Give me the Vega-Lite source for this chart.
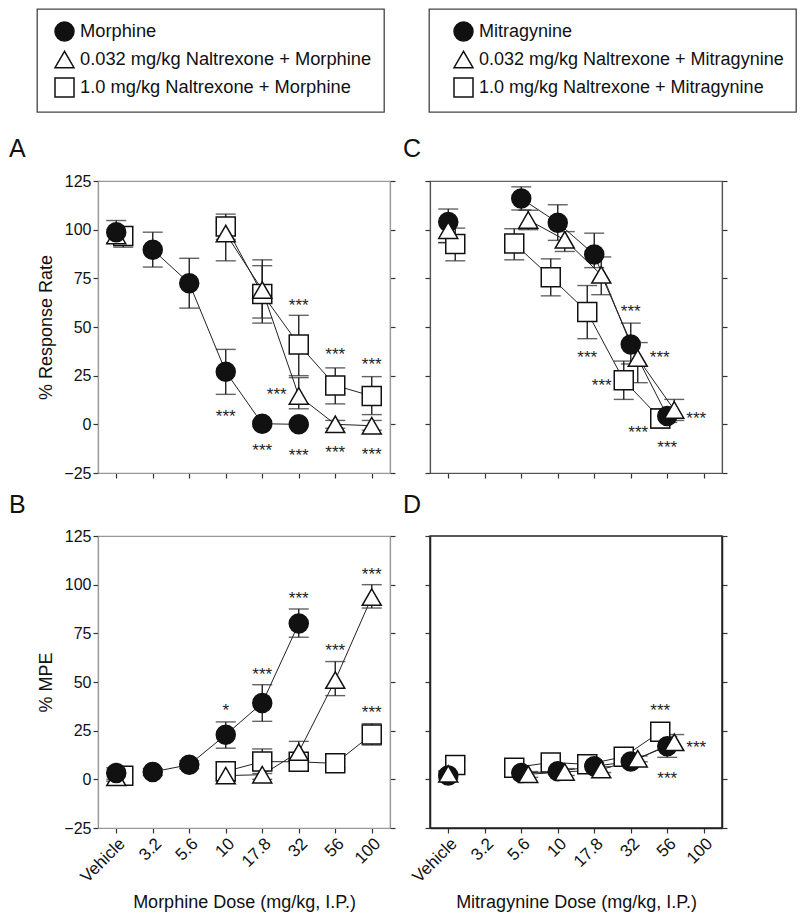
{
  "$schema": "https://vega.github.io/schema/vega-lite/v6.json",
  "background": "white",
  "padding": {"left": 8, "top": 7, "right": 5, "bottom": 5},
  "columns": 2,
  "spacing": {"row": 63, "column": 40},
  "bounds": "flush",
  "resolve": {"scale": {"shape": "independent", "fill": "independent", "stroke": "independent"}, "legend": {"shape": "independent", "fill": "independent", "stroke": "independent"}},
  "datasets": {
    "A": [
      {"d": "Vehicle", "n": 0, "s": "q", "series": "1.0 mg/kg Naltrexone + Morphine", "v": 96.8, "lo": 91, "hi": 101.5},
      {"d": "10", "n": 10, "s": "q", "series": "1.0 mg/kg Naltrexone + Morphine", "v": 101.6, "lo": 95, "hi": 108},
      {"d": "17.8", "n": 17.8, "s": "q", "series": "1.0 mg/kg Naltrexone + Morphine", "v": 67, "lo": 54.6, "hi": 81.5},
      {"d": "32", "n": 32, "s": "q", "series": "1.0 mg/kg Naltrexone + Morphine", "v": 41, "lo": 25, "hi": 56},
      {"d": "56", "n": 56, "s": "q", "series": "1.0 mg/kg Naltrexone + Morphine", "v": 20, "lo": 10.5, "hi": 29},
      {"d": "100", "n": 100, "s": "q", "series": "1.0 mg/kg Naltrexone + Morphine", "v": 14.5, "lo": 5, "hi": 24.5},
      {"d": "Vehicle", "n": 0, "s": "t", "series": "0.032 mg/kg Naltrexone + Morphine", "v": 97, "lo": 93, "hi": 100},
      {"d": "10", "n": 10, "s": "t", "series": "0.032 mg/kg Naltrexone + Morphine", "v": 98, "lo": 84, "hi": 104},
      {"d": "17.8", "n": 17.8, "s": "t", "series": "0.032 mg/kg Naltrexone + Morphine", "v": 69, "lo": 52, "hi": 84.5},
      {"d": "32", "n": 32, "s": "t", "series": "0.032 mg/kg Naltrexone + Morphine", "v": 14.6, "lo": 8, "hi": 24},
      {"d": "56", "n": 56, "s": "t", "series": "0.032 mg/kg Naltrexone + Morphine", "v": 0, "lo": -2, "hi": 2},
      {"d": "100", "n": 100, "s": "t", "series": "0.032 mg/kg Naltrexone + Morphine", "v": -0.7, "lo": -3, "hi": 2},
      {"d": "Vehicle", "n": 0, "s": "c", "series": "Morphine", "v": 98.7, "lo": 93, "hi": 104.7},
      {"d": "3.2", "n": 3.2, "s": "c", "series": "Morphine", "v": 89.7, "lo": 80.8, "hi": 98.7},
      {"d": "5.6", "n": 5.6, "s": "c", "series": "Morphine", "v": 72.5, "lo": 59.7, "hi": 85.3},
      {"d": "10", "n": 10, "s": "c", "series": "Morphine", "v": 27, "lo": 15.4, "hi": 38.5},
      {"d": "17.8", "n": 17.8, "s": "c", "series": "Morphine", "v": 0.3, "lo": -1, "hi": 1.5},
      {"d": "32", "n": 32, "s": "c", "series": "Morphine", "v": 0, "lo": -1, "hi": 1}
    ],
    "B": [
      {"d": "Vehicle", "n": 0, "s": "q", "series": "1.0 mg/kg Naltrexone + Morphine", "v": 1.9, "lo": -2, "hi": 5},
      {"d": "10", "n": 10, "s": "q", "series": "1.0 mg/kg Naltrexone + Morphine", "v": 4.1, "lo": 0, "hi": 9},
      {"d": "17.8", "n": 17.8, "s": "q", "series": "1.0 mg/kg Naltrexone + Morphine", "v": 9.1, "lo": 3, "hi": 15.6},
      {"d": "32", "n": 32, "s": "q", "series": "1.0 mg/kg Naltrexone + Morphine", "v": 9, "lo": 5, "hi": 13},
      {"d": "56", "n": 56, "s": "q", "series": "1.0 mg/kg Naltrexone + Morphine", "v": 8.2, "lo": 6, "hi": 10.5},
      {"d": "100", "n": 100, "s": "q", "series": "1.0 mg/kg Naltrexone + Morphine", "v": 23, "lo": 17.6, "hi": 28.6},
      {"d": "Vehicle", "n": 0, "s": "t", "series": "0.032 mg/kg Naltrexone + Morphine", "v": 1, "lo": -1, "hi": 3},
      {"d": "10", "n": 10, "s": "t", "series": "0.032 mg/kg Naltrexone + Morphine", "v": 1.9, "lo": -1, "hi": 4},
      {"d": "17.8", "n": 17.8, "s": "t", "series": "0.032 mg/kg Naltrexone + Morphine", "v": 2.4, "lo": 0, "hi": 5},
      {"d": "32", "n": 32, "s": "t", "series": "0.032 mg/kg Naltrexone + Morphine", "v": 14, "lo": 8, "hi": 19.5},
      {"d": "56", "n": 56, "s": "t", "series": "0.032 mg/kg Naltrexone + Morphine", "v": 51, "lo": 43, "hi": 60.5},
      {"d": "100", "n": 100, "s": "t", "series": "0.032 mg/kg Naltrexone + Morphine", "v": 93.6, "lo": 88, "hi": 100},
      {"d": "Vehicle", "n": 0, "s": "c", "series": "Morphine", "v": 3.3, "lo": 0, "hi": 6},
      {"d": "3.2", "n": 3.2, "s": "c", "series": "Morphine", "v": 3.8, "lo": 2, "hi": 5.5},
      {"d": "5.6", "n": 5.6, "s": "c", "series": "Morphine", "v": 7.5, "lo": 5.5, "hi": 9.5},
      {"d": "10", "n": 10, "s": "c", "series": "Morphine", "v": 22.9, "lo": 16, "hi": 29.5},
      {"d": "17.8", "n": 17.8, "s": "c", "series": "Morphine", "v": 39.2, "lo": 29.8, "hi": 48.6},
      {"d": "32", "n": 32, "s": "c", "series": "Morphine", "v": 80, "lo": 73, "hi": 87.5}
    ],
    "C": [
      {"d": "Vehicle", "n": 0, "s": "q", "series": "1.0 mg/kg Naltrexone + Mitragynine", "v": 92.6, "lo": 84, "hi": 100.8},
      {"d": "5.6", "n": 5.6, "s": "q", "series": "1.0 mg/kg Naltrexone + Mitragynine", "v": 92.9, "lo": 84.5, "hi": 100.5},
      {"d": "10", "n": 10, "s": "q", "series": "1.0 mg/kg Naltrexone + Mitragynine", "v": 75.6, "lo": 66, "hi": 85},
      {"d": "17.8", "n": 17.8, "s": "q", "series": "1.0 mg/kg Naltrexone + Mitragynine", "v": 57.7, "lo": 44, "hi": 71.3},
      {"d": "32", "n": 32, "s": "q", "series": "1.0 mg/kg Naltrexone + Mitragynine", "v": 22.6, "lo": 12.8, "hi": 32.5},
      {"d": "56", "n": 56, "s": "q", "series": "1.0 mg/kg Naltrexone + Mitragynine", "v": 3, "lo": -2, "hi": 8},
      {"d": "Vehicle", "n": 0, "s": "c", "series": "Mitragynine", "v": 104, "lo": 93.3, "hi": 110.6},
      {"d": "5.6", "n": 5.6, "s": "c", "series": "Mitragynine", "v": 116, "lo": 110.1, "hi": 122},
      {"d": "10", "n": 10, "s": "c", "series": "Mitragynine", "v": 103.6, "lo": 94.5, "hi": 112.8},
      {"d": "17.8", "n": 17.8, "s": "c", "series": "Mitragynine", "v": 87.2, "lo": 80.5, "hi": 98.2},
      {"d": "32", "n": 32, "s": "c", "series": "Mitragynine", "v": 41, "lo": 31, "hi": 52},
      {"d": "56", "n": 56, "s": "c", "series": "Mitragynine", "v": 4.3, "lo": 1, "hi": 7},
      {"d": "Vehicle", "n": 0, "s": "t", "series": "0.032 mg/kg Naltrexone + Mitragynine", "v": 99.7, "lo": 93.4, "hi": 104},
      {"d": "5.6", "n": 5.6, "s": "t", "series": "0.032 mg/kg Naltrexone + Mitragynine", "v": 105, "lo": 100, "hi": 110},
      {"d": "10", "n": 10, "s": "t", "series": "0.032 mg/kg Naltrexone + Mitragynine", "v": 94.8, "lo": 88.8, "hi": 99},
      {"d": "17.8", "n": 17.8, "s": "t", "series": "0.032 mg/kg Naltrexone + Mitragynine", "v": 76.8, "lo": 66.6, "hi": 86},
      {"d": "32", "n": 32, "s": "t", "series": "0.032 mg/kg Naltrexone + Mitragynine", "v": 34, "lo": 21.4, "hi": 42},
      {"d": "56", "n": 56, "s": "t", "series": "0.032 mg/kg Naltrexone + Mitragynine", "v": 7.4, "lo": 2, "hi": 12.8}
    ],
    "D": [
      {"d": "Vehicle", "n": 0, "s": "q", "series": "1.0 mg/kg Naltrexone + Mitragynine", "v": 7.4, "lo": 5, "hi": 9.5},
      {"d": "5.6", "n": 5.6, "s": "q", "series": "1.0 mg/kg Naltrexone + Mitragynine", "v": 6, "lo": 4, "hi": 8},
      {"d": "10", "n": 10, "s": "q", "series": "1.0 mg/kg Naltrexone + Mitragynine", "v": 8.7, "lo": 6.5, "hi": 11},
      {"d": "17.8", "n": 17.8, "s": "q", "series": "1.0 mg/kg Naltrexone + Mitragynine", "v": 7.7, "lo": 5.5, "hi": 10},
      {"d": "32", "n": 32, "s": "q", "series": "1.0 mg/kg Naltrexone + Mitragynine", "v": 11.6, "lo": 9, "hi": 14},
      {"d": "56", "n": 56, "s": "q", "series": "1.0 mg/kg Naltrexone + Mitragynine", "v": 24.4, "lo": 20, "hi": 28},
      {"d": "Vehicle", "n": 0, "s": "c", "series": "Mitragynine", "v": 2, "lo": 0, "hi": 4},
      {"d": "5.6", "n": 5.6, "s": "c", "series": "Mitragynine", "v": 3.2, "lo": 1.5, "hi": 5},
      {"d": "10", "n": 10, "s": "c", "series": "Mitragynine", "v": 4.1, "lo": 2.5, "hi": 6},
      {"d": "17.8", "n": 17.8, "s": "c", "series": "Mitragynine", "v": 6.7, "lo": 5, "hi": 8.5},
      {"d": "32", "n": 32, "s": "c", "series": "Mitragynine", "v": 9.2, "lo": 7.5, "hi": 11},
      {"d": "56", "n": 56, "s": "c", "series": "Mitragynine", "v": 17, "lo": 11.3, "hi": 22},
      {"d": "Vehicle", "n": 0, "s": "t", "series": "0.032 mg/kg Naltrexone + Mitragynine", "v": 2.8, "lo": 1, "hi": 4.5},
      {"d": "5.6", "n": 5.6, "s": "t", "series": "0.032 mg/kg Naltrexone + Mitragynine", "v": 2.6, "lo": 1, "hi": 4},
      {"d": "10", "n": 10, "s": "t", "series": "0.032 mg/kg Naltrexone + Mitragynine", "v": 3.8, "lo": 2, "hi": 5.5},
      {"d": "17.8", "n": 17.8, "s": "t", "series": "0.032 mg/kg Naltrexone + Mitragynine", "v": 5, "lo": 3.5, "hi": 6.5},
      {"d": "32", "n": 32, "s": "t", "series": "0.032 mg/kg Naltrexone + Mitragynine", "v": 10.6, "lo": 9, "hi": 12},
      {"d": "56", "n": 56, "s": "t", "series": "0.032 mg/kg Naltrexone + Mitragynine", "v": 19, "lo": 15, "hi": 23}
    ],
    "As": [
      {"d": "10", "s": "c", "v": 5.8, "t": "***"},
      {"d": "17.8", "s": "c", "v": -11.6, "t": "***"},
      {"d": "32", "s": "c", "v": -14.2, "t": "***"},
      {"d": "56", "s": "t", "v": -12.8, "t": "***"},
      {"d": "100", "s": "t", "v": -13.5, "t": "***"},
      {"d": "32", "s": "t", "place": "l", "v": 17, "t": "***"},
      {"d": "32", "s": "q", "v": 62.8, "t": "***"},
      {"d": "56", "s": "q", "v": 37.5, "t": "***"},
      {"d": "100", "s": "q", "v": 32.3, "t": "***"}
    ],
    "Bs": [
      {"d": "10", "s": "c", "v": 37.1, "t": "*"},
      {"d": "17.8", "s": "c", "v": 55.4, "t": "***"},
      {"d": "32", "s": "c", "v": 94.5, "t": "***"},
      {"d": "56", "s": "t", "v": 67.8, "t": "***"},
      {"d": "100", "s": "t", "v": 107, "t": "***"},
      {"d": "100", "s": "q", "v": 36, "t": "***"}
    ],
    "Cs": [
      {"d": "32", "s": "c", "v": 59.7, "t": "***"},
      {"d": "17.8", "s": "q", "v": 36, "t": "***"},
      {"d": "32", "s": "t", "place": "r", "v": 36, "t": "***"},
      {"d": "32", "s": "q", "place": "l", "v": 22, "t": "***"},
      {"d": "56", "s": "t", "place": "r", "v": 5, "t": "***"},
      {"d": "56", "s": "q", "place": "l", "v": -2.6, "t": "***"},
      {"d": "56", "s": "c", "v": -10, "t": "***"}
    ],
    "Ds": [
      {"d": "56", "s": "q", "v": 37, "t": "***"},
      {"d": "56", "s": "t", "place": "r", "v": 18.3, "t": "***"},
      {"d": "56", "s": "c", "v": 2, "t": "***"}
    ]
  },
  "concat": [
    {
      "width": 292, "height": 292,
      "title": {"text": "A", "dx": -89, "offset": -153.75},
      "view": {"stroke": "#999"},
      "resolve": {"axis": {"y": "independent"}},
      "layer": [
        {"data": {"name": "A"}, "transform": [{"filter": "datum.d !== 'Vehicle'"}],
         "mark": {"type": "line", "color": "#222", "strokeWidth": 1, "xOffset": {"expr": "(datum.s === 'q' && datum.d === 'Vehicle' ? 7 : 0)"}},
         "encoding": {
           "x": {"field": "d", "type": "ordinal", "scale": {"type": "point", "domain": ["Vehicle", "3.2", "5.6", "10", "17.8", "32", "56", "100"], "padding": 0.5}, "axis": {"labels": false, "title": null, "domainColor": "#999"}},
           "y": {"field": "v", "type": "quantitative", "scale": {"domain": [-25, 125], "nice": false, "zero": false}, "axis": {"orient": "left", "title": "% Response Rate", "values": [-25, 0, 25, 50, 75, 100, 125], "titleFontSize": 18, "titlePadding": 8, "domainColor": "#999"}},
           "detail": {"field": "s"}, "order": {"field": "n", "type": "quantitative"}}},
        {"data": {"name": "A"},
         "mark": {"type": "rule", "color": "#222", "strokeWidth": 1.4, "xOffset": {"expr": "(datum.s === 'q' && datum.d === 'Vehicle' ? 7 : 0)"}},
         "encoding": {
           "x": {"field": "d", "type": "ordinal", "scale": {"type": "point", "domain": ["Vehicle", "3.2", "5.6", "10", "17.8", "32", "56", "100"], "padding": 0.5}, "axis": {"labels": false, "title": null, "domainColor": "#999"}},
           "y": {"field": "lo", "type": "quantitative", "scale": {"domain": [-25, 125], "nice": false, "zero": false}, "axis": null}, "y2": {"field": "hi"}}},
        {"data": {"name": "A"},
         "mark": {"type": "tick", "color": "#222", "thickness": 1.4, "size": 20, "xOffset": {"expr": "(datum.s === 'q' && datum.d === 'Vehicle' ? 7 : 0)"}},
         "encoding": {
           "x": {"field": "d", "type": "ordinal", "scale": {"type": "point", "domain": ["Vehicle", "3.2", "5.6", "10", "17.8", "32", "56", "100"], "padding": 0.5}, "axis": {"labels": false, "title": null, "domainColor": "#999"}},
           "y": {"field": "hi", "type": "quantitative", "scale": {"domain": [-25, 125], "nice": false, "zero": false}, "axis": {"orient": "right", "labels": false, "title": null, "values": [-25, 0, 25, 50, 75, 100, 125], "domainColor": "#999"}}}},
        {"data": {"name": "A"},
         "mark": {"type": "tick", "color": "#222", "thickness": 1.4, "size": 20, "xOffset": {"expr": "(datum.s === 'q' && datum.d === 'Vehicle' ? 7 : 0)"}},
         "encoding": {
           "x": {"field": "d", "type": "ordinal", "scale": {"type": "point", "domain": ["Vehicle", "3.2", "5.6", "10", "17.8", "32", "56", "100"], "padding": 0.5}, "axis": {"labels": false, "title": null, "domainColor": "#999"}},
           "y": {"field": "lo", "type": "quantitative", "scale": {"domain": [-25, 125], "nice": false, "zero": false}, "axis": null}}},
        {"data": {"name": "A"},
         "mark": {"type": "point", "size": 361, "strokeWidth": 1.5, "opacity": 1, "xOffset": {"expr": "(datum.s === 'q' && datum.d === 'Vehicle' ? 7 : 0)"}},
         "encoding": {
           "x": {"field": "d", "type": "ordinal", "scale": {"type": "point", "domain": ["Vehicle", "3.2", "5.6", "10", "17.8", "32", "56", "100"], "padding": 0.5}, "axis": {"labels": false, "title": null, "domainColor": "#999"}},
           "y": {"field": "v", "type": "quantitative", "scale": {"domain": [-25, 125], "nice": false, "zero": false}, "axis": null},
           "shape": {"field": "series", "type": "nominal", "scale": {"domain": ["Morphine", "0.032 mg/kg Naltrexone + Morphine", "1.0 mg/kg Naltrexone + Morphine"], "range": ["circle", "triangle-up", "square"]},
             "legend": {"orient": "none", "legendX": -61, "legendY": -172, "title": null, "labelFontSize": 18.3, "labelLimit": 500, "labelColor": "#111", "symbolSize": 361, "symbolStrokeWidth": 1.5, "rowPadding": 4, "padding": 12, "strokeColor": "#444", "symbolOffset": 5, "labelOffset": 5}},
           "fill": {"field": "series", "type": "nominal", "scale": {"domain": ["Morphine", "0.032 mg/kg Naltrexone + Morphine", "1.0 mg/kg Naltrexone + Morphine"], "range": ["#111111", "#ffffff", "#ffffff"]},
             "legend": {"orient": "none", "legendX": -61, "legendY": -172, "title": null, "labelFontSize": 18.3, "labelLimit": 500, "labelColor": "#111", "symbolSize": 361, "symbolStrokeWidth": 1.5, "rowPadding": 4, "padding": 12, "strokeColor": "#444", "symbolOffset": 5, "labelOffset": 5}},
           "stroke": {"field": "series", "type": "nominal", "scale": {"domain": ["Morphine", "0.032 mg/kg Naltrexone + Morphine", "1.0 mg/kg Naltrexone + Morphine"], "range": ["#111111", "#111111", "#111111"]},
             "legend": {"orient": "none", "legendX": -61, "legendY": -172, "title": null, "labelFontSize": 18.3, "labelLimit": 500, "labelColor": "#111", "symbolSize": 361, "symbolStrokeWidth": 1.5, "rowPadding": 4, "padding": 12, "strokeColor": "#444", "symbolOffset": 5, "labelOffset": 5}}}},
        {"data": {"name": "As"},
         "mark": {"type": "text", "fontSize": 17, "color": "#222", "baseline": "middle", "dy": 4, "xOffset": {"expr": "(datum.place === 'l' ? -22 : datum.place === 'r' ? 22 : 0)"}},
         "encoding": {
           "x": {"field": "d", "type": "ordinal", "scale": {"type": "point", "domain": ["Vehicle", "3.2", "5.6", "10", "17.8", "32", "56", "100"], "padding": 0.5}, "axis": {"labels": false, "title": null, "domainColor": "#999"}},
           "y": {"field": "v", "type": "quantitative", "scale": {"domain": [-25, 125], "nice": false, "zero": false}, "axis": null},
           "text": {"field": "t"}}}
      ]
    },
    {
      "width": 292, "height": 292,
      "title": {"text": "C", "dx": -27, "offset": -153.75},
      "view": {"stroke": "#666"},
      "resolve": {"axis": {"y": "independent"}},
      "layer": [
        {"data": {"name": "C"}, "transform": [{"filter": "datum.d !== 'Vehicle'"}],
         "mark": {"type": "line", "color": "#222", "strokeWidth": 1, "xOffset": {"expr": "datum.s === 'q' ? (datum.d === 'Vehicle' ? 7 : -7) : (datum.s === 't' && datum.d !== 'Vehicle' ? 7 : 0)"}},
         "encoding": {
           "x": {"field": "d", "type": "ordinal", "scale": {"type": "point", "domain": ["Vehicle", "3.2", "5.6", "10", "17.8", "32", "56", "100"], "padding": 0.5}, "axis": {"labels": false, "title": null, "domainColor": "#555"}},
           "y": {"field": "v", "type": "quantitative", "scale": {"domain": [-25, 125], "nice": false, "zero": false}, "axis": {"orient": "left", "labels": false, "title": null, "values": [-25, 0, 25, 50, 75, 100, 125], "domainColor": "#555"}},
           "detail": {"field": "s"}, "order": {"field": "n", "type": "quantitative"}}},
        {"data": {"name": "C"},
         "mark": {"type": "rule", "color": "#222", "strokeWidth": 1.4, "xOffset": {"expr": "datum.s === 'q' ? (datum.d === 'Vehicle' ? 7 : -7) : (datum.s === 't' && datum.d !== 'Vehicle' ? 7 : 0)"}},
         "encoding": {
           "x": {"field": "d", "type": "ordinal", "scale": {"type": "point", "domain": ["Vehicle", "3.2", "5.6", "10", "17.8", "32", "56", "100"], "padding": 0.5}, "axis": {"labels": false, "title": null, "domainColor": "#555"}},
           "y": {"field": "lo", "type": "quantitative", "scale": {"domain": [-25, 125], "nice": false, "zero": false}, "axis": null}, "y2": {"field": "hi"}}},
        {"data": {"name": "C"},
         "mark": {"type": "tick", "color": "#222", "thickness": 1.4, "size": 20, "xOffset": {"expr": "datum.s === 'q' ? (datum.d === 'Vehicle' ? 7 : -7) : (datum.s === 't' && datum.d !== 'Vehicle' ? 7 : 0)"}},
         "encoding": {
           "x": {"field": "d", "type": "ordinal", "scale": {"type": "point", "domain": ["Vehicle", "3.2", "5.6", "10", "17.8", "32", "56", "100"], "padding": 0.5}, "axis": {"labels": false, "title": null, "domainColor": "#555"}},
           "y": {"field": "hi", "type": "quantitative", "scale": {"domain": [-25, 125], "nice": false, "zero": false}, "axis": {"orient": "right", "labels": false, "title": null, "values": [-25, 0, 25, 50, 75, 100, 125], "domainColor": "#555"}}}},
        {"data": {"name": "C"},
         "mark": {"type": "tick", "color": "#222", "thickness": 1.4, "size": 20, "xOffset": {"expr": "datum.s === 'q' ? (datum.d === 'Vehicle' ? 7 : -7) : (datum.s === 't' && datum.d !== 'Vehicle' ? 7 : 0)"}},
         "encoding": {
           "x": {"field": "d", "type": "ordinal", "scale": {"type": "point", "domain": ["Vehicle", "3.2", "5.6", "10", "17.8", "32", "56", "100"], "padding": 0.5}, "axis": {"labels": false, "title": null, "domainColor": "#555"}},
           "y": {"field": "lo", "type": "quantitative", "scale": {"domain": [-25, 125], "nice": false, "zero": false}, "axis": null}}},
        {"data": {"name": "C"},
         "mark": {"type": "point", "size": 361, "strokeWidth": 1.5, "opacity": 1, "xOffset": {"expr": "datum.s === 'q' ? (datum.d === 'Vehicle' ? 7 : -7) : (datum.s === 't' && datum.d !== 'Vehicle' ? 7 : 0)"}},
         "encoding": {
           "x": {"field": "d", "type": "ordinal", "scale": {"type": "point", "domain": ["Vehicle", "3.2", "5.6", "10", "17.8", "32", "56", "100"], "padding": 0.5}, "axis": {"labels": false, "title": null, "domainColor": "#555"}},
           "y": {"field": "v", "type": "quantitative", "scale": {"domain": [-25, 125], "nice": false, "zero": false}, "axis": null},
           "shape": {"field": "series", "type": "nominal", "scale": {"domain": ["Mitragynine", "0.032 mg/kg Naltrexone + Mitragynine", "1.0 mg/kg Naltrexone + Mitragynine"], "range": ["circle", "triangle-up", "square"]},
             "legend": {"orient": "none", "legendX": -1, "legendY": -172, "title": null, "labelFontSize": 18, "labelLimit": 500, "labelColor": "#111", "symbolSize": 361, "symbolStrokeWidth": 1.5, "rowPadding": 4, "padding": 12, "strokeColor": "#444", "symbolOffset": 12, "labelOffset": 5}},
           "fill": {"field": "series", "type": "nominal", "scale": {"domain": ["Mitragynine", "0.032 mg/kg Naltrexone + Mitragynine", "1.0 mg/kg Naltrexone + Mitragynine"], "range": ["#111111", "#ffffff", "#ffffff"]},
             "legend": {"orient": "none", "legendX": -1, "legendY": -172, "title": null, "labelFontSize": 18, "labelLimit": 500, "labelColor": "#111", "symbolSize": 361, "symbolStrokeWidth": 1.5, "rowPadding": 4, "padding": 12, "strokeColor": "#444", "symbolOffset": 12, "labelOffset": 5}},
           "stroke": {"field": "series", "type": "nominal", "scale": {"domain": ["Mitragynine", "0.032 mg/kg Naltrexone + Mitragynine", "1.0 mg/kg Naltrexone + Mitragynine"], "range": ["#111111", "#111111", "#111111"]},
             "legend": {"orient": "none", "legendX": -1, "legendY": -172, "title": null, "labelFontSize": 18, "labelLimit": 500, "labelColor": "#111", "symbolSize": 361, "symbolStrokeWidth": 1.5, "rowPadding": 4, "padding": 12, "strokeColor": "#444", "symbolOffset": 12, "labelOffset": 5}}}},
        {"data": {"name": "Cs"},
         "mark": {"type": "text", "fontSize": 17, "color": "#222", "baseline": "middle", "dy": 4, "xOffset": {"expr": "(datum.s === 'q' ? -7 : datum.s === 't' ? 7 : 0) + (datum.place === 'l' ? -22 : datum.place === 'r' ? 22 : 0)"}},
         "encoding": {
           "x": {"field": "d", "type": "ordinal", "scale": {"type": "point", "domain": ["Vehicle", "3.2", "5.6", "10", "17.8", "32", "56", "100"], "padding": 0.5}, "axis": {"labels": false, "title": null, "domainColor": "#555"}},
           "y": {"field": "v", "type": "quantitative", "scale": {"domain": [-25, 125], "nice": false, "zero": false}, "axis": null},
           "text": {"field": "t"}}}
      ]
    },
    {
      "width": 292, "height": 292,
      "title": {"text": "B", "dx": -89, "offset": 10.5},
      "view": {"stroke": "#999"},
      "resolve": {"axis": {"y": "independent"}},
      "layer": [
        {"data": {"name": "B"}, "transform": [{"filter": "datum.d !== 'Vehicle'"}],
         "mark": {"type": "line", "color": "#222", "strokeWidth": 1, "xOffset": {"expr": "(datum.s === 'q' && datum.d === 'Vehicle' ? 7 : 0)"}},
         "encoding": {
           "x": {"field": "d", "type": "ordinal", "scale": {"type": "point", "domain": ["Vehicle", "3.2", "5.6", "10", "17.8", "32", "56", "100"], "padding": 0.5}, "axis": {"title": "Morphine Dose (mg/kg, I.P.)", "labelAngle": -45, "labelFontSize": 17, "titleFontSize": 18, "titlePadding": 8, "domainColor": "#999"}},
           "y": {"field": "v", "type": "quantitative", "scale": {"domain": [-25, 125], "nice": false, "zero": false}, "axis": {"orient": "left", "title": "% MPE", "values": [-25, 0, 25, 50, 75, 100, 125], "titleFontSize": 18, "titlePadding": 8, "domainColor": "#999"}},
           "detail": {"field": "s"}, "order": {"field": "n", "type": "quantitative"}}},
        {"data": {"name": "B"},
         "mark": {"type": "rule", "color": "#222", "strokeWidth": 1.4, "xOffset": {"expr": "(datum.s === 'q' && datum.d === 'Vehicle' ? 7 : 0)"}},
         "encoding": {
           "x": {"field": "d", "type": "ordinal", "scale": {"type": "point", "domain": ["Vehicle", "3.2", "5.6", "10", "17.8", "32", "56", "100"], "padding": 0.5}, "axis": {"title": "Morphine Dose (mg/kg, I.P.)", "labelAngle": -45, "labelFontSize": 17, "titleFontSize": 18, "titlePadding": 8, "domainColor": "#999"}},
           "y": {"field": "lo", "type": "quantitative", "scale": {"domain": [-25, 125], "nice": false, "zero": false}, "axis": null}, "y2": {"field": "hi"}}},
        {"data": {"name": "B"},
         "mark": {"type": "tick", "color": "#222", "thickness": 1.4, "size": 20, "xOffset": {"expr": "(datum.s === 'q' && datum.d === 'Vehicle' ? 7 : 0)"}},
         "encoding": {
           "x": {"field": "d", "type": "ordinal", "scale": {"type": "point", "domain": ["Vehicle", "3.2", "5.6", "10", "17.8", "32", "56", "100"], "padding": 0.5}, "axis": {"title": "Morphine Dose (mg/kg, I.P.)", "labelAngle": -45, "labelFontSize": 17, "titleFontSize": 18, "titlePadding": 8, "domainColor": "#999"}},
           "y": {"field": "hi", "type": "quantitative", "scale": {"domain": [-25, 125], "nice": false, "zero": false}, "axis": {"orient": "right", "labels": false, "title": null, "values": [-25, 0, 25, 50, 75, 100, 125], "domainColor": "#999"}}}},
        {"data": {"name": "B"},
         "mark": {"type": "tick", "color": "#222", "thickness": 1.4, "size": 20, "xOffset": {"expr": "(datum.s === 'q' && datum.d === 'Vehicle' ? 7 : 0)"}},
         "encoding": {
           "x": {"field": "d", "type": "ordinal", "scale": {"type": "point", "domain": ["Vehicle", "3.2", "5.6", "10", "17.8", "32", "56", "100"], "padding": 0.5}, "axis": {"title": "Morphine Dose (mg/kg, I.P.)", "labelAngle": -45, "labelFontSize": 17, "titleFontSize": 18, "titlePadding": 8, "domainColor": "#999"}},
           "y": {"field": "lo", "type": "quantitative", "scale": {"domain": [-25, 125], "nice": false, "zero": false}, "axis": null}}},
        {"data": {"name": "B"},
         "mark": {"type": "point", "size": 361, "stroke": "#111", "strokeWidth": 1.5, "opacity": 1, "xOffset": {"expr": "(datum.s === 'q' && datum.d === 'Vehicle' ? 7 : 0)"}},
         "encoding": {
           "x": {"field": "d", "type": "ordinal", "scale": {"type": "point", "domain": ["Vehicle", "3.2", "5.6", "10", "17.8", "32", "56", "100"], "padding": 0.5}, "axis": {"title": "Morphine Dose (mg/kg, I.P.)", "labelAngle": -45, "labelFontSize": 17, "titleFontSize": 18, "titlePadding": 8, "domainColor": "#999"}},
           "y": {"field": "v", "type": "quantitative", "scale": {"domain": [-25, 125], "nice": false, "zero": false}, "axis": null},
           "shape": {"field": "series", "type": "nominal", "scale": {"domain": ["Morphine", "0.032 mg/kg Naltrexone + Morphine", "1.0 mg/kg Naltrexone + Morphine"], "range": ["circle", "triangle-up", "square"]}, "legend": null},
           "fill": {"field": "series", "type": "nominal", "scale": {"domain": ["Morphine", "0.032 mg/kg Naltrexone + Morphine", "1.0 mg/kg Naltrexone + Morphine"], "range": ["#111111", "#ffffff", "#ffffff"]}, "legend": null}}},
        {"data": {"name": "Bs"},
         "mark": {"type": "text", "fontSize": 17, "color": "#222", "baseline": "middle", "dy": 4, "xOffset": {"expr": "(datum.place === 'l' ? -22 : datum.place === 'r' ? 22 : 0)"}},
         "encoding": {
           "x": {"field": "d", "type": "ordinal", "scale": {"type": "point", "domain": ["Vehicle", "3.2", "5.6", "10", "17.8", "32", "56", "100"], "padding": 0.5}, "axis": {"title": "Morphine Dose (mg/kg, I.P.)", "labelAngle": -45, "labelFontSize": 17, "titleFontSize": 18, "titlePadding": 8, "domainColor": "#999"}},
           "y": {"field": "v", "type": "quantitative", "scale": {"domain": [-25, 125], "nice": false, "zero": false}, "axis": null},
           "text": {"field": "t"}}}
      ]
    },
    {
      "width": 292, "height": 292,
      "title": {"text": "D", "dx": -27, "offset": 17.5},
      "view": {"stroke": "#222", "strokeWidth": 1.5},
      "resolve": {"axis": {"y": "independent"}},
      "layer": [
        {"data": {"name": "D"}, "transform": [{"filter": "datum.d !== 'Vehicle'"}],
         "mark": {"type": "line", "color": "#222", "strokeWidth": 1, "xOffset": {"expr": "datum.s === 'q' ? (datum.d === 'Vehicle' ? 7 : -7) : (datum.s === 't' && datum.d !== 'Vehicle' ? 7 : 0)"}},
         "encoding": {
           "x": {"field": "d", "type": "ordinal", "scale": {"type": "point", "domain": ["Vehicle", "3.2", "5.6", "10", "17.8", "32", "56", "100"], "padding": 0.5}, "axis": {"title": "Mitragynine Dose (mg/kg, I.P.)", "labelAngle": -45, "labelFontSize": 17, "titleFontSize": 18, "titlePadding": 8, "domainColor": "#222", "domainWidth": 1.5}},
           "y": {"field": "v", "type": "quantitative", "scale": {"domain": [-25, 125], "nice": false, "zero": false}, "axis": {"orient": "left", "labels": false, "title": null, "values": [-25, 0, 25, 50, 75, 100, 125], "domainColor": "#222", "domainWidth": 1.5}},
           "detail": {"field": "s"}, "order": {"field": "n", "type": "quantitative"}}},
        {"data": {"name": "D"},
         "mark": {"type": "rule", "color": "#222", "strokeWidth": 1.4, "xOffset": {"expr": "datum.s === 'q' ? (datum.d === 'Vehicle' ? 7 : -7) : (datum.s === 't' && datum.d !== 'Vehicle' ? 7 : 0)"}},
         "encoding": {
           "x": {"field": "d", "type": "ordinal", "scale": {"type": "point", "domain": ["Vehicle", "3.2", "5.6", "10", "17.8", "32", "56", "100"], "padding": 0.5}, "axis": {"title": "Mitragynine Dose (mg/kg, I.P.)", "labelAngle": -45, "labelFontSize": 17, "titleFontSize": 18, "titlePadding": 8, "domainColor": "#222", "domainWidth": 1.5}},
           "y": {"field": "lo", "type": "quantitative", "scale": {"domain": [-25, 125], "nice": false, "zero": false}, "axis": null}, "y2": {"field": "hi"}}},
        {"data": {"name": "D"},
         "mark": {"type": "tick", "color": "#222", "thickness": 1.4, "size": 20, "xOffset": {"expr": "datum.s === 'q' ? (datum.d === 'Vehicle' ? 7 : -7) : (datum.s === 't' && datum.d !== 'Vehicle' ? 7 : 0)"}},
         "encoding": {
           "x": {"field": "d", "type": "ordinal", "scale": {"type": "point", "domain": ["Vehicle", "3.2", "5.6", "10", "17.8", "32", "56", "100"], "padding": 0.5}, "axis": {"title": "Mitragynine Dose (mg/kg, I.P.)", "labelAngle": -45, "labelFontSize": 17, "titleFontSize": 18, "titlePadding": 8, "domainColor": "#222", "domainWidth": 1.5}},
           "y": {"field": "hi", "type": "quantitative", "scale": {"domain": [-25, 125], "nice": false, "zero": false}, "axis": {"orient": "right", "labels": false, "title": null, "values": [-25, 0, 25, 50, 75, 100, 125], "domainColor": "#222", "domainWidth": 1.5}}}},
        {"data": {"name": "D"},
         "mark": {"type": "tick", "color": "#222", "thickness": 1.4, "size": 20, "xOffset": {"expr": "datum.s === 'q' ? (datum.d === 'Vehicle' ? 7 : -7) : (datum.s === 't' && datum.d !== 'Vehicle' ? 7 : 0)"}},
         "encoding": {
           "x": {"field": "d", "type": "ordinal", "scale": {"type": "point", "domain": ["Vehicle", "3.2", "5.6", "10", "17.8", "32", "56", "100"], "padding": 0.5}, "axis": {"title": "Mitragynine Dose (mg/kg, I.P.)", "labelAngle": -45, "labelFontSize": 17, "titleFontSize": 18, "titlePadding": 8, "domainColor": "#222", "domainWidth": 1.5}},
           "y": {"field": "lo", "type": "quantitative", "scale": {"domain": [-25, 125], "nice": false, "zero": false}, "axis": null}}},
        {"data": {"name": "D"},
         "mark": {"type": "point", "size": 361, "stroke": "#111", "strokeWidth": 1.5, "opacity": 1, "xOffset": {"expr": "datum.s === 'q' ? (datum.d === 'Vehicle' ? 7 : -7) : (datum.s === 't' && datum.d !== 'Vehicle' ? 7 : 0)"}},
         "encoding": {
           "x": {"field": "d", "type": "ordinal", "scale": {"type": "point", "domain": ["Vehicle", "3.2", "5.6", "10", "17.8", "32", "56", "100"], "padding": 0.5}, "axis": {"title": "Mitragynine Dose (mg/kg, I.P.)", "labelAngle": -45, "labelFontSize": 17, "titleFontSize": 18, "titlePadding": 8, "domainColor": "#222", "domainWidth": 1.5}},
           "y": {"field": "v", "type": "quantitative", "scale": {"domain": [-25, 125], "nice": false, "zero": false}, "axis": null},
           "shape": {"field": "series", "type": "nominal", "scale": {"domain": ["Mitragynine", "0.032 mg/kg Naltrexone + Mitragynine", "1.0 mg/kg Naltrexone + Mitragynine"], "range": ["circle", "triangle-up", "square"]}, "legend": null},
           "fill": {"field": "series", "type": "nominal", "scale": {"domain": ["Mitragynine", "0.032 mg/kg Naltrexone + Mitragynine", "1.0 mg/kg Naltrexone + Mitragynine"], "range": ["#111111", "#ffffff", "#ffffff"]}, "legend": null}}},
        {"data": {"name": "Ds"},
         "mark": {"type": "text", "fontSize": 17, "color": "#222", "baseline": "middle", "dy": 4, "xOffset": {"expr": "(datum.s === 'q' ? -7 : datum.s === 't' ? 7 : 0) + (datum.place === 'l' ? -22 : datum.place === 'r' ? 22 : 0)"}},
         "encoding": {
           "x": {"field": "d", "type": "ordinal", "scale": {"type": "point", "domain": ["Vehicle", "3.2", "5.6", "10", "17.8", "32", "56", "100"], "padding": 0.5}, "axis": {"title": "Mitragynine Dose (mg/kg, I.P.)", "labelAngle": -45, "labelFontSize": 17, "titleFontSize": 18, "titlePadding": 8, "domainColor": "#222", "domainWidth": 1.5}},
           "y": {"field": "v", "type": "quantitative", "scale": {"domain": [-25, 125], "nice": false, "zero": false}, "axis": null},
           "text": {"field": "t"}}}
      ]
    }
  ],
  "config": {
    "font": "Liberation Sans",
    "view": {"stroke": "#999", "strokeWidth": 1.2},
    "axis": {"grid": false, "labelFont": "Liberation Sans", "titleFont": "Liberation Sans", "labelFontSize": 16, "labelColor": "#111", "titleFontWeight": "normal", "titleColor": "#111", "tickColor": "#333", "tickSize": 5, "tickWidth": 1.2, "domainWidth": 1.2, "domainColor": "#999"},
    "legend": {"labelFont": "Liberation Sans", "strokeWidth": 1.3},
    "title": {"font": "Liberation Sans", "fontSize": 25, "fontWeight": "normal", "color": "#111", "anchor": "start", "frame": "group", "baseline": "alphabetic"}
  }
}
